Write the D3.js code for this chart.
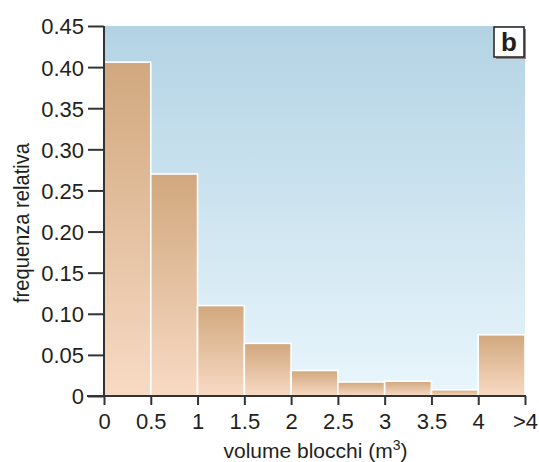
<!DOCTYPE html>
<html>
<head>
<meta charset="utf-8">
<script src="https://cdn.jsdelivr.net/npm/d3@7"></script>
<style>
  body { margin: 0; background: #fff; }
  text { font-family: "Liberation Sans", Arial, sans-serif; fill: #231f20; }
</style>
</head>
<body>
<script>
// bins of 0.5 m3, last one is everything above 4
const binStart = [0, 0.5, 1, 1.5, 2, 2.5, 3, 3.5, 4]
const freq = [0.406, 0.270, 0.110, 0.064, 0.031, 0.017, 0.018, 0.0075, 0.0745]
const xTicks = [0, 0.5, 1, 1.5, 2, 2.5, 3, 3.5, 4, 4.5]
const xTickLabels = ['0', '0.5', '1', '1.5', '2', '2.5', '3', '3.5', '4', '>4']
const yTicks = [0, 0.05, 0.10, 0.15, 0.20, 0.25, 0.30, 0.35, 0.40, 0.45]

const data = binStart.map((b, i) => ({start: b, value: freq[i]}))

const width = 539
const height = 462
const margin = {top: 26, right: 14, bottom: 66, left: 104}

const svg = d3.select('body').append('svg')
  .attr('width', width)
  .attr('height', height)

const defs = svg.append('defs')

const bgGrad = defs.append('linearGradient')
  .attr('id', 'bg').attr('x1', 0).attr('y1', 0).attr('x2', 0).attr('y2', 1)
bgGrad.append('stop').attr('offset', '0%').attr('stop-color', '#b3d3e4')
bgGrad.append('stop').attr('offset', '100%').attr('stop-color', '#e9f6fc')

const barGrad = defs.append('linearGradient')
  .attr('id', 'bar').attr('x1', 0).attr('y1', 0).attr('x2', 0).attr('y2', 1)
barGrad.append('stop').attr('offset', '0%').attr('stop-color', '#d1a87e')
barGrad.append('stop').attr('offset', '100%').attr('stop-color', '#f8dac4')

const xScale = d3.scaleLinear()
  .domain([0, 4.5])
  .range([margin.left, width - margin.right])

const yScale = d3.scaleLinear()
  .domain([0, 0.45])
  .range([height - margin.bottom, margin.top])

// plot background
svg.append('rect')
  .attr('x', xScale(0))
  .attr('y', yScale(0.45))
  .attr('width', xScale(4.5) - xScale(0))
  .attr('height', yScale(0) - yScale(0.45))
  .attr('fill', 'url(#bg)')

// bars
svg.append('g').selectAll('rect')
  .data(data)
  .enter()
  .append('rect')
  .attr('x', d => xScale(d.start))
  .attr('y', d => yScale(d.value))
  .attr('width', d => xScale(d.start + 0.5) - xScale(d.start))
  .attr('height', d => yScale(0) - yScale(d.value))
  .attr('fill', 'url(#bar)')
  .attr('stroke', '#fff')
  .attr('stroke-width', 1.6)

// y axis
const yAxis = d3.axisLeft(yScale)
  .tickValues(yTicks)
  .tickSize(16)
  .tickPadding(4)
  .tickFormat(d => d === 0 ? '0' : d3.format('.2f')(d))

const gy = svg.append('g')
  .attr('transform', `translate(${xScale(0)},0)`)
  .call(yAxis)
gy.select('.domain').remove()
gy.append('line')
  .attr('x1', 0).attr('x2', 0)
  .attr('y1', yScale(0.45)).attr('y2', yScale(0))
  .attr('stroke', '#333').attr('stroke-width', 2)
gy.selectAll('.tick line').attr('stroke', '#333').attr('stroke-width', 2)
gy.selectAll('.tick text').attr('font-size', 22).attr('dy', '0.36em')

// x axis
const xAxis = d3.axisBottom(xScale)
  .tickValues(xTicks)
  .tickSize(9)
  .tickPadding(8)
  .tickFormat((d, i) => xTickLabels[i])

const gx = svg.append('g')
  .attr('transform', `translate(0,${yScale(0)})`)
  .call(xAxis)
gx.select('.domain').remove()
gx.append('line')
  .attr('x1', 87).attr('x2', xScale(4.5) + 1)
  .attr('y1', 0).attr('y2', 0)
  .attr('stroke', '#333').attr('stroke-width', 2)
gx.selectAll('.tick line').attr('stroke', '#333').attr('stroke-width', 2)
gx.selectAll('.tick text').attr('font-size', 22)

// axis titles (the original uses a condensed face)
svg.append('text')
  .attr('transform', 'translate(29,223) rotate(-90)')
  .attr('text-anchor', 'middle')
  .attr('font-size', 22)
  .attr('textLength', 160)
  .attr('lengthAdjust', 'spacingAndGlyphs')
  .text('frequenza relativa')

const xTitle = svg.append('text')
  .attr('x', (xScale(0) + xScale(4.5)) / 2 + 1)
  .attr('y', 458)
  .attr('text-anchor', 'middle')
  .attr('font-size', 21)
xTitle.append('tspan').text('volume blocchi (m')
xTitle.append('tspan').attr('font-size', 14).attr('dy', -8).text('3')
xTitle.append('tspan').attr('dy', 8).text(')')

// panel letter
const bx = xScale(4.5) - 31
const by = yScale(0.45) + 1
svg.append('rect')
  .attr('x', bx + 2).attr('y', by + 2)
  .attr('width', 30).attr('height', 30)
  .attr('fill', '#888')
svg.append('rect')
  .attr('x', bx).attr('y', by)
  .attr('width', 30).attr('height', 30)
  .attr('fill', '#fff')
  .attr('stroke', '#231f20').attr('stroke-width', 1.5)
svg.append('text')
  .attr('x', bx + 15).attr('y', by + 24)
  .attr('text-anchor', 'middle')
  .attr('font-weight', 'bold')
  .attr('font-size', 26)
  .text('b')
</script>
</body>
</html>
